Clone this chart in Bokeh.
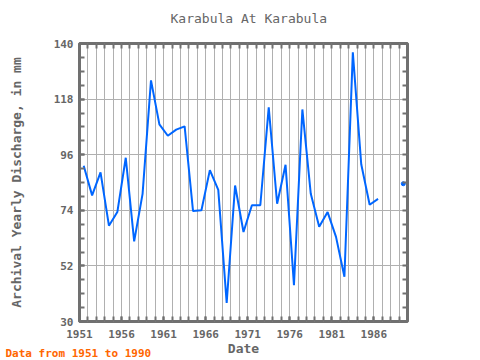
import math
from bokeh.plotting import figure
from bokeh.models import (Range1d, FixedTicker, LinearAxis, Title, ColumnDataSource)
from bokeh.embed import file_html
from bokeh.resources import INLINE

# ---- data -------------------------------------------------------------
years = list(range(1951, 1990))
discharge = [91.6, 79.9, 89.0, 67.9, 73.3, 94.8, 61.7, 80.5, 125.4, 108.0,
             103.5, 105.9, 107.2, 73.7, 74.0, 89.9, 82.1, 37.3, 83.8, 65.4,
             76.0, 76.0, 114.7, 76.6, 92.0, 44.4, 113.9, 80.5, 67.5, 73.3,
             63.5, 47.7, 136.5, 92.2, 76.2, 78.5, float("nan"), float("nan"), 84.5]
y_ticks = [30, 52, 74, 96, 118, 140]
x_ticks = [1951, 1956, 1961, 1966, 1971, 1976, 1981, 1986]
title_text = "Karabula At Karabula"
y_label = "Archival Yearly Discharge, in mm"
x_label = "Date"
footer_text = "Data from 1951 to 1990"

# ---- styling ----------------------------------------------------------
FONT = "DejaVu Sans Mono"
GRAY = "#666666"
FRAME = "#707070"
LINE = "#0066ff"

xs = [y + 0.5 for y in years]

p = figure(width=480, height=360, output_backend="svg", toolbar_location=None,
           x_range=Range1d(1951, 1990), y_range=Range1d(30, 140),
           min_border_left=79, min_border_right=73, min_border_top=43,
           min_border_bottom=39, x_axis_location=None, y_axis_location=None,
           title=None)

p.background_fill_color = "white"
p.border_fill_color = "white"
p.outline_line_color = FRAME
p.outline_line_width = 3

y_minor = [30 + 5.5 * i for i in range(21)]
x_minor = list(range(1951, 1991))

def style_axis(ax):
    ax.axis_line_color = None
    ax.major_tick_in = 5
    ax.major_tick_out = 0
    ax.minor_tick_in = 5
    ax.minor_tick_out = 0
    ax.major_tick_line_color = FRAME
    ax.minor_tick_line_color = FRAME
    ax.major_tick_line_width = 2
    ax.minor_tick_line_width = 2
    ax.major_label_text_font = FONT
    ax.major_label_text_font_size = "11px"
    ax.major_label_text_font_style = "bold"
    ax.major_label_text_color = GRAY
    ax.axis_label_text_font = FONT
    ax.axis_label_text_font_size = "13px"
    ax.axis_label_text_font_style = "bold"
    ax.axis_label_text_color = GRAY

left = LinearAxis(ticker=FixedTicker(ticks=y_ticks, minor_ticks=y_minor), axis_label=y_label)
style_axis(left)
left.major_label_standoff = 6
left.axis_label_standoff = 27
p.add_layout(left, "left")

right = LinearAxis(ticker=FixedTicker(ticks=[], minor_ticks=y_minor))
style_axis(right)
p.add_layout(right, "right")

bottom = LinearAxis(ticker=FixedTicker(ticks=x_ticks, minor_ticks=x_minor), axis_label=x_label)
style_axis(bottom)
bottom.major_label_standoff = 8
bottom.axis_label_standoff = 0
p.add_layout(bottom, "below")

top = LinearAxis(ticker=FixedTicker(ticks=[], minor_ticks=x_minor))
style_axis(top)
p.add_layout(top, "above")

p.xgrid.ticker = FixedTicker(ticks=x_minor)
p.ygrid.ticker = FixedTicker(ticks=y_ticks)
p.xgrid.grid_line_color = "#b0b0b0"
p.ygrid.grid_line_color = "#b0b0b0"

main_title = Title(text=title_text, text_font=FONT, text_font_size="13px",
                   text_font_style="normal", text_color=GRAY, align="left",
                   offset=91, standoff=0,
                   padding=dict(left=0, right=0, top=0, bottom=18))
p.add_layout(main_title, "above")

footer = Title(text=footer_text, text_font=FONT, text_font_size="11px",
               text_font_style="bold", text_color="#ff6600", align="left",
               vertical_align="top", offset=-74, standoff=-24)
p.add_layout(footer, "below")

src = ColumnDataSource(dict(x=xs, y=discharge))
p.line("x", "y", source=src, line_color=LINE, line_width=2)

# isolated points (no neighbours) shown as dots
iso_x, iso_y = [], []
for i, v in enumerate(discharge):
    if math.isnan(v):
        continue
    prev_nan = i == 0 or math.isnan(discharge[i - 1])
    next_nan = i == len(discharge) - 1 or math.isnan(discharge[i + 1])
    if prev_nan and next_nan:
        iso_x.append(xs[i]); iso_y.append(v)
p.scatter(iso_x, iso_y, size=4, color=LINE)

open("out.html", "w").write(file_html(p, INLINE))
